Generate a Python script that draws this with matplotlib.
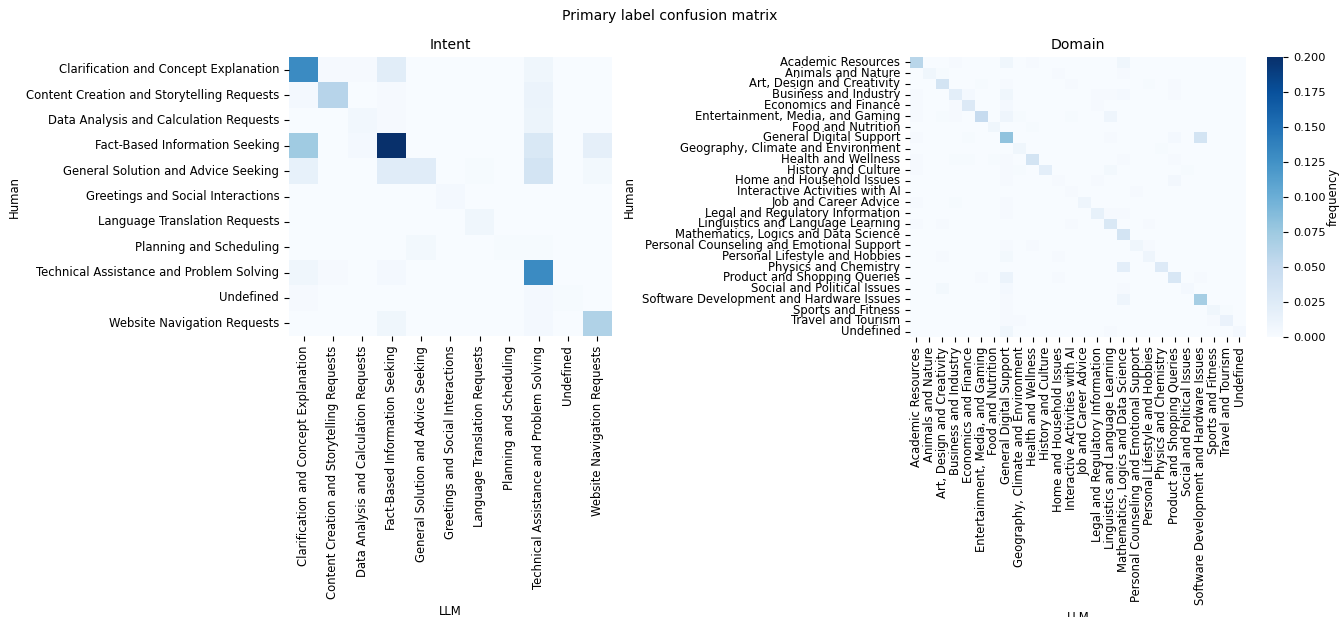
import numpy as np
import pandas as pd
import seaborn as sns
from matplotlib import pyplot as plt

plt.rcParams['font.size'] = 8.4

intent_labels = ["Clarification and Concept Explanation",
                 "Content Creation and Storytelling Requests",
                 "Data Analysis and Calculation Requests",
                 "Fact-Based Information Seeking",
                 "General Solution and Advice Seeking",
                 "Greetings and Social Interactions",
                 "Language Translation Requests",
                 "Planning and Scheduling",
                 "Technical Assistance and Problem Solving",
                 "Undefined",
                 "Website Navigation Requests"]

# rows = Human, columns = LLM
intent_freq = [
    [0.130, 0.003, 0.003, 0.022, 0, 0, 0, 0, 0.008, 0, 0],
    [0.004, 0.060, 0, 0.003, 0, 0, 0, 0, 0.012, 0, 0],
    [0, 0, 0.007, 0.003, 0, 0, 0, 0, 0.011, 0, 0],
    [0.074, 0, 0.004, 0.200, 0, 0, 0, 0, 0.030, 0, 0.018],
    [0.016, 0, 0, 0.023, 0.023, 0, 0.002, 0, 0.036, 0, 0.005],
    [0, 0, 0, 0, 0, 0.004, 0, 0, 0, 0, 0],
    [0, 0, 0, 0, 0, 0, 0.008, 0, 0, 0, 0],
    [0, 0, 0, 0, 0.005, 0, 0, 0.002, 0.002, 0, 0],
    [0.008, 0.003, 0, 0.004, 0, 0, 0, 0, 0.130, 0, 0],
    [0.003, 0, 0, 0, 0, 0, 0, 0, 0.004, 0.002, 0],
    [0, 0, 0, 0.008, 0, 0, 0, 0, 0.004, 0, 0.064],
]

domain_labels = ["Academic Resources", "Animals and Nature",
                 "Art, Design and Creativity", "Business and Industry",
                 "Economics and Finance", "Entertainment, Media, and Gaming",
                 "Food and Nutrition", "General Digital Support",
                 "Geography, Climate and Environment", "Health and Wellness",
                 "History and Culture", "Home and Household Issues",
                 "Interactive Activities with AI", "Job and Career Advice",
                 "Legal and Regulatory Information",
                 "Linguistics and Language Learning",
                 "Mathematics, Logics and Data Science",
                 "Personal Counseling and Emotional Support",
                 "Personal Lifestyle and Hobbies", "Physics and Chemistry",
                 "Product and Shopping Queries", "Social and Political Issues",
                 "Software Development and Hardware Issues",
                 "Sports and Fitness", "Travel and Tourism", "Undefined"]

# nonzero cells per Human row: {LLM column: frequency}
domain_cells = [
    {0: 0.058, 3: 0.003, 7: 0.008, 9: 0.003, 16: 0.008},
    {1: 0.008, 2: 0.002, 11: 0.003, 16: 0.003},
    {2: 0.036, 5: 0.002, 7: 0.003, 12: 0.003, 18: 0.002, 20: 0.003},
    {0: 0.003, 3: 0.020, 4: 0.004, 7: 0.008, 14: 0.003, 15: 0.003, 16: 0.004, 20: 0.003},
    {0: 0.003, 3: 0.003, 4: 0.028, 7: 0.004, 14: 0.003},
    {0: 0.003, 2: 0.002, 3: 0.003, 5: 0.050, 7: 0.010, 8: 0.002, 12: 0.002, 15: 0.010},
    {6: 0.008, 9: 0.002},
    {0: 0.003, 4: 0.002, 7: 0.082, 15: 0.003, 20: 0.004, 22: 0.036},
    {8: 0.008, 19: 0.002},
    {0: 0.003, 3: 0.002, 4: 0.002, 6: 0.002, 7: 0.003, 9: 0.036, 16: 0.003, 20: 0.003},
    {0: 0.003, 7: 0.003, 8: 0.002, 10: 0.020, 15: 0.005, 21: 0.002},
    {7: 0.003, 11: 0.003, 14: 0.003, 20: 0.006},
    {12: 0.003, 17: 0.003},
    {0: 0.003, 3: 0.002, 7: 0.003, 13: 0.010},
    {7: 0.003, 14: 0.016, 15: 0.003, 16: 0.003},
    {0: 0.003, 2: 0.003, 12: 0.003, 15: 0.030, 18: 0.003},
    {16: 0.036},
    {7: 0.003, 9: 0.003, 17: 0.008, 18: 0.003},
    {2: 0.003, 7: 0.005, 11: 0.003, 18: 0.010},
    {16: 0.020, 19: 0.026},
    {5: 0.003, 7: 0.012, 11: 0.003, 20: 0.032, 22: 0.003},
    {2: 0.005, 7: 0.004, 16: 0.003, 21: 0.004},
    {7: 0.003, 16: 0.010, 22: 0.070},
    {7: 0.003, 23: 0.008, 24: 0.002},
    {7: 0.003, 8: 0.003, 23: 0.003, 24: 0.014},
    {7: 0.008, 15: 0.003, 25: 0.004},
]

intent_df = pd.DataFrame(intent_freq, index=intent_labels, columns=intent_labels)
domain_df = pd.DataFrame(0.0, index=domain_labels, columns=domain_labels)
for i, row in enumerate(domain_cells):
    for j, v in row.items():
        domain_df.iloc[i, j] = v

fig = plt.figure(figsize=(13.39, 6.17), dpi=100)
ax1 = fig.add_axes([0.2158, 0.4554, 0.2412, 0.4522])
ax2 = fig.add_axes([0.6796, 0.4538, 0.2509, 0.4538])
cax = fig.add_axes([0.9462, 0.4538, 0.012, 0.4538])

sns.heatmap(intent_df, ax=ax1, cmap='Blues', vmin=0, vmax=0.2, cbar=False)
ax1.set_title("Intent")
ax1.set_xlabel("LLM")
ax1.set_ylabel("Human")

sns.heatmap(domain_df, ax=ax2, cmap='Blues', vmin=0, vmax=0.2,
            cbar_ax=cax, cbar_kws={'label': 'frequency'})
ax2.set_title("Domain")
ax2.set_xlabel("LLM")
ax2.set_ylabel("Human")
ax2.set_xticks(np.arange(len(domain_labels)) + 0.5)
ax2.set_xticklabels(domain_labels, rotation=90)
ax2.set_yticks(np.arange(len(domain_labels)) + 0.5)
ax2.set_yticklabels(domain_labels, rotation=0)

cax.tick_params(labelsize=8.2)
cax.yaxis.labelpad = 1

fig.suptitle("Primary label confusion matrix", y=0.985)
fig.savefig("out.png", dpi=100)
